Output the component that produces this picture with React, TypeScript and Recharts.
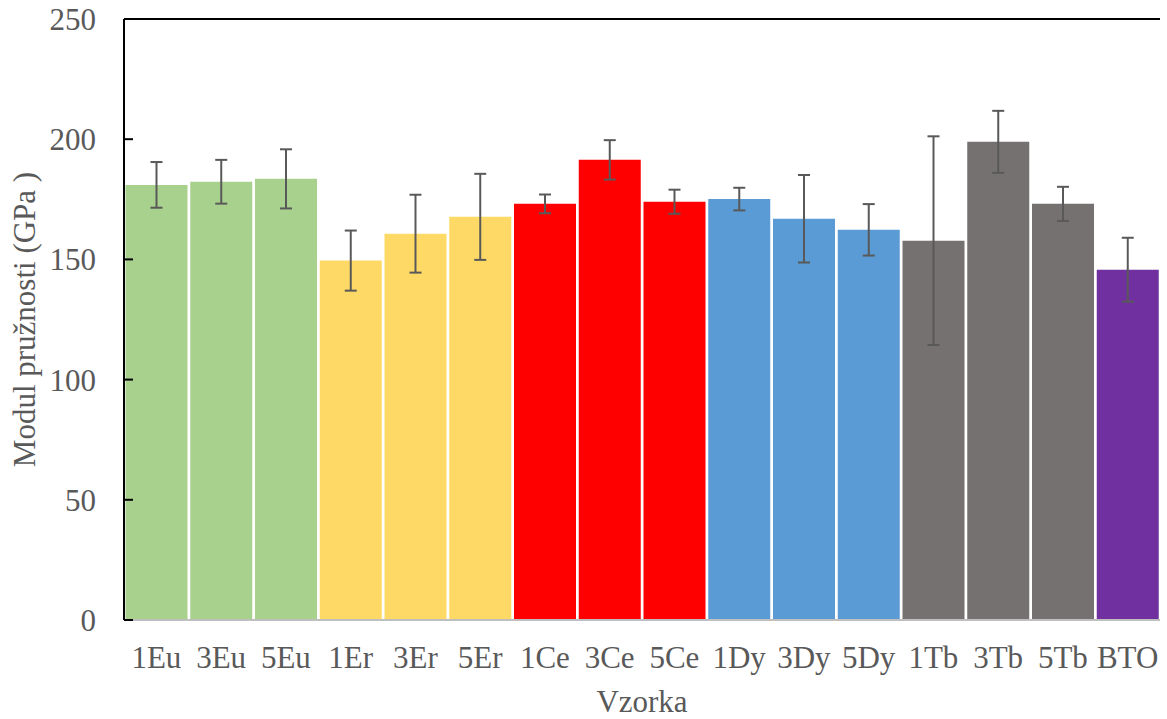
import { BarChart, Bar, Cell, XAxis, YAxis, ErrorBar, ReferenceLine } from 'recharts';

const samples = ['1Eu', '3Eu', '5Eu', '1Er', '3Er', '5Er', '1Ce', '3Ce', '5Ce', '1Dy', '3Dy', '5Dy', '1Tb', '3Tb', '5Tb', 'BTO'];
const modulus = [181.0, 182.3, 183.5, 149.5, 160.7, 167.7, 173.1, 191.4, 174.0, 175.1, 166.9, 162.3, 157.8, 198.9, 173.1, 145.7];
const deviation = [9.5, 9.1, 12.3, 12.5, 16.2, 17.9, 3.9, 8.2, 5.0, 4.7, 18.2, 10.7, 43.4, 12.9, 7.1, 13.3];
const barColors = [
  '#A9D18E', '#A9D18E', '#A9D18E',
  '#FFD966', '#FFD966', '#FFD966',
  '#FF0000', '#FF0000', '#FF0000',
  '#5B9BD5', '#5B9BD5', '#5B9BD5',
  '#767171', '#767171', '#767171',
  '#7030A0',
];
const yTicks = [0, 50, 100, 150, 200, 250];

const data = samples.map((name, i) => ({ name, value: modulus[i], err: deviation[i] }));

const font = '"Liberation Serif", "Times New Roman", serif';
const textColor = '#595959';
const fontSize = 31;

function YLabel({ viewBox }: any) {
  const cy = viewBox.y + viewBox.height / 2;
  return (
    <text
      x={24}
      y={cy}
      transform={`rotate(-90, 24, ${cy})`}
      textAnchor="middle"
      dominantBaseline="central"
      fontFamily={font}
      fontSize={fontSize}
      fill={textColor}
    >
      Modul pružnosti (GPa )
    </text>
  );
}

export default function App() {
  return (
    <div style={{ position: 'absolute', left: 0, top: 0, width: 1167, height: 719, background: '#fff' }}>
      <BarChart
        width={1167}
        height={719}
        data={data}
        margin={{ top: 19, right: 7, left: 0, bottom: 0 }}
        barCategoryGap={1.5}
      >
        <XAxis
          dataKey="name"
          height={99}
          axisLine={{ stroke: '#bfbfbf', strokeWidth: 2 }}
          tickLine={false}
          tickMargin={20}
          tick={{ fontFamily: font, fontSize, fill: textColor }}
          interval={0}
          label={{ value: 'Vzorka', position: 'insideBottom', offset: 7, fontFamily: font, fontSize, fill: textColor }}
        />
        <YAxis
          yAxisId="left"
          width={124}
          domain={[0, 250]}
          ticks={yTicks}
          interval={0}
          axisLine={{ stroke: '#000', strokeWidth: 2 }}
          tickLine={{ stroke: '#000', strokeWidth: 2 }}
          tickSize={-9}
          tickMargin={37}
          tick={{ fontFamily: font, fontSize, fill: textColor }}
          label={<YLabel />}
        />
        <YAxis
          yAxisId="right"
          orientation="right"
          width={0}
          domain={[0, 250]}
          tick={false}
          tickLine={false}
          axisLine={{ stroke: '#000', strokeWidth: 2 }}
        />
        <ReferenceLine yAxisId="left" y={250} stroke="#000" strokeWidth={2} />
        <Bar yAxisId="left" dataKey="value" isAnimationActive={false}>
          {data.map((d, i) => (
            <Cell key={d.name} fill={barColors[i]} />
          ))}
          <ErrorBar dataKey="err" width={6} stroke="#595959" strokeWidth={2} />
        </Bar>
      </BarChart>
    </div>
  );
}
